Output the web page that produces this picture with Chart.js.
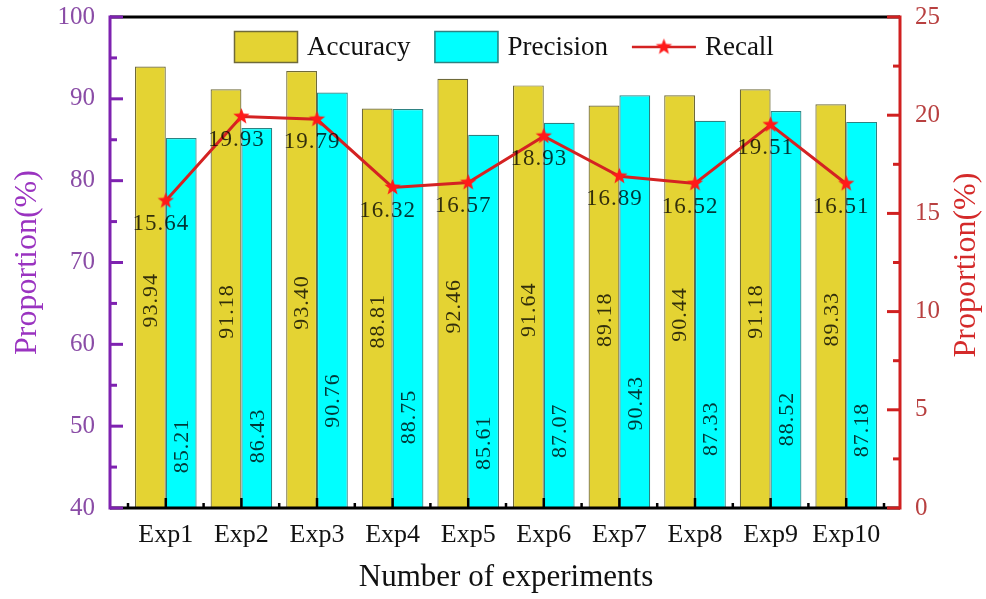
<!DOCTYPE html>
<html><head><meta charset="utf-8">
<script src="https://cdn.jsdelivr.net/npm/chart.js@4.4.1/dist/chart.umd.min.js"></script>
<style>html,body{margin:0;padding:0;background:#fff;}#wrap{width:986px;height:599px;position:relative;}</style>
</head><body><div id="wrap"><canvas id="c"></canvas></div>
<script>
const categories = ['Exp1','Exp2','Exp3','Exp4','Exp5','Exp6','Exp7','Exp8','Exp9','Exp10'];
const accuracy  = [93.94, 91.18, 93.40, 88.81, 92.46, 91.64, 89.18, 90.44, 91.18, 89.33];
const precision = [85.21, 86.43, 90.76, 88.75, 85.61, 87.07, 90.43, 87.33, 88.52, 87.18];
const recall    = [15.64, 19.93, 19.79, 16.32, 16.57, 18.93, 16.89, 16.52, 19.51, 16.51];
const leftTicks  = [40, 50, 60, 70, 80, 90, 100];
const rightTicks = [0, 5, 10, 15, 20, 25];

const FONT = 'Liberation Serif';
const C = {
  acc: '#E4D333', accB: '#6F6A3A',
  pre: '#00FFFF', preB: '#2E8282',
  rec: '#D42222', star: '#FF1A1A',
  left: '#7E22B0', leftTick: '#8A4CA6', leftTitle: '#9A33C0',
  right: '#D02020', rightTick: '#B84040', rightTitle: '#D42A2A'
};

function makeStar(R, r, color){
  const s = Math.ceil(R*2)+2;
  const c = document.createElement('canvas'); c.width = s; c.height = s;
  const g = c.getContext('2d'); g.fillStyle = color; g.beginPath();
  for (let i=0;i<10;i++){const a=-Math.PI/2+i*Math.PI/5; const rad=i%2?r:R; g.lineTo(s/2+rad*Math.cos(a), s/2+rad*Math.sin(a));}
  g.closePath(); g.fill(); return c;
}
const starImg = makeStar(8.5, 3.6, C.star);

const fmt = v => v.toFixed(2);

const decor = {
  id: 'decor',
  afterDatasetsDraw(chart){
    const ctx = chart.ctx, ca = chart.chartArea;
    const xs = chart.scales.x, ys = chart.scales.y, y1 = chart.scales.y1;
    const L = ca.left - 18, R = ca.right + 16, T = ca.top, B = ca.bottom;
    ctx.save();
    ctx.lineCap = 'butt';
    ctx.lineWidth = 3; ctx.strokeStyle = '#000';
    ctx.beginPath(); ctx.moveTo(L, T); ctx.lineTo(R, T); ctx.stroke();
    ctx.beginPath(); ctx.moveTo(L, B); ctx.lineTo(R, B); ctx.stroke();
    ctx.lineWidth = 2.5;
    categories.forEach((c,i)=>{const x = xs.getPixelForValue(i); ctx.beginPath(); ctx.moveTo(x,B); ctx.lineTo(x,B-10); ctx.stroke();});
    for (let i=0;i<=categories.length;i++){const x = ca.left + i*ca.width/categories.length; ctx.beginPath(); ctx.moveTo(x,B); ctx.lineTo(x,B-5); ctx.stroke();}
    ctx.strokeStyle = C.left; ctx.lineWidth = 3;
    ctx.beginPath(); ctx.moveTo(L, T-1.5); ctx.lineTo(L, B+1.5); ctx.stroke();
    const lStep = leftTicks[1]-leftTicks[0];
    for (let v=leftTicks[0]; v<=leftTicks[leftTicks.length-1]+1e-9; v+=lStep/2){
      const y = ys.getPixelForValue(v); const len = (Math.abs((v-leftTicks[0])%lStep)<1e-9)?13:7;
      ctx.beginPath(); ctx.moveTo(L, y); ctx.lineTo(L+len, y); ctx.stroke();
    }
    ctx.strokeStyle = C.right;
    ctx.beginPath(); ctx.moveTo(R, T-1.5); ctx.lineTo(R, B+1.5); ctx.stroke();
    const rStep = rightTicks[1]-rightTicks[0];
    for (let v=rightTicks[0]; v<=rightTicks[rightTicks.length-1]+1e-9; v+=rStep/2){
      const y = y1.getPixelForValue(v); const len = (Math.abs((v-rightTicks[0])%rStep)<1e-9)?13:7;
      ctx.beginPath(); ctx.moveTo(R, y); ctx.lineTo(R-len, y); ctx.stroke();
    }
    // bar value labels
    ctx.fillStyle = 'rgba(0,0,0,0.78)';
    ctx.font = '22px "' + FONT + '"';
    ctx.textAlign = 'center'; ctx.textBaseline = 'middle';
    try { ctx.letterSpacing = '1px'; } catch(e) {}
    const m0 = chart.getDatasetMeta(0), m1 = chart.getDatasetMeta(1), m2 = chart.getDatasetMeta(2);
    m0.data.forEach((el,i)=>{
      const base = Math.min(el.base, B);
      const cy = (el.y + base)/2 + 13;
      ctx.save(); ctx.translate(el.x, cy); ctx.rotate(-Math.PI/2); ctx.fillText(fmt(accuracy[i]),0,1); ctx.restore();
    });
    m1.data.forEach((el,i)=>{
      const cy = el.y + 308;
      ctx.save(); ctx.translate(el.x, cy); ctx.rotate(-Math.PI/2); ctx.fillText(fmt(precision[i]),0,1); ctx.restore();
    });
    ctx.font = '23px "' + FONT + '"';
    m2.data.forEach((pt,i)=>{ ctx.fillText(fmt(recall[i]), pt.x-5, pt.y+23); });
    ctx.restore();
  },
  afterDraw(chart){
    const ctx = chart.ctx;
    ctx.save();
    const ds = chart.data.datasets;
    let x = 234; const y = 31, bw = 64, bh = 32;
    ctx.font = '27px "' + FONT + '"'; ctx.textBaseline = 'middle'; ctx.textAlign = 'left';
    ds.forEach(d=>{
      if (d.type === 'line') {
        ctx.strokeStyle = d.borderColor; ctx.lineWidth = 2.5;
        ctx.beginPath(); ctx.moveTo(x, y+bh/2); ctx.lineTo(x+bw, y+bh/2); ctx.stroke();
        ctx.drawImage(starImg, x+bw/2-starImg.width/2, y+bh/2-starImg.height/2);
      } else {
        ctx.fillStyle = d.backgroundColor; ctx.fillRect(x, y, bw, bh);
        ctx.strokeStyle = d.borderColor; ctx.lineWidth = 1.5; ctx.strokeRect(x+0.5, y+0.5, bw-1, bh-1);
      }
      x += bw + 9;
      ctx.fillStyle = '#111'; ctx.fillText(d.label, x, y+bh/2+1);
      x += ctx.measureText(d.label).width + 24;
    });
    ctx.translate(967, 265); ctx.rotate(-Math.PI/2);
    ctx.textAlign = 'center'; ctx.fillStyle = C.rightTitle; ctx.font = '32px "' + FONT + '"';
    ctx.fillText('Proportion(%)', 0, 0);
    ctx.restore();
  }
};

new Chart(document.getElementById('c'), {
  data: {
    labels: categories,
    datasets: [
      {type:'bar', label:'Accuracy', data: accuracy, backgroundColor: C.acc, borderColor: C.accB, borderWidth: 1.2, yAxisID:'y', order: 2, categoryPercentage: 0.815, barPercentage: 1},
      {type:'bar', label:'Precision', data: precision, backgroundColor: C.pre, borderColor: C.preB, borderWidth: 1.2, yAxisID:'y', order: 2, categoryPercentage: 0.815, barPercentage: 1},
      {type:'line', label:'Recall', data: recall, borderColor: C.rec, backgroundColor: C.star, borderWidth: 3, pointStyle: starImg, pointRadius: 8, yAxisID:'y1', order: 0, tension: 0}
    ]
  },
  options: {
    responsive: true, maintainAspectRatio: false, animation: false,
    devicePixelRatio: 1,
    layout: {padding: {top: 17, left: 0, right: 0, bottom: 0}},
    plugins: {legend: {display: false}, tooltip: {enabled: false}},
    scales: {
      x: {
        type: 'category', offset: true,
        grid: {display: false, drawTicks: false}, border: {display: false},
        ticks: {font: {family: FONT, size: 26}, color: '#111', padding: 12, maxRotation: 0, autoSkip: false},
        title: {display: true, text: 'Number of experiments', font: {family: FONT, size: 31}, color: '#111', padding: {top: 0, bottom: 3}},
        afterFit(s){ s.height = 91; s.paddingLeft = 0; s.paddingRight = 0; }
      },
      y: {
        position: 'left', min: leftTicks[0], max: leftTicks[leftTicks.length-1],
        grid: {display: false, drawTicks: false}, border: {display: false},
        ticks: {stepSize: leftTicks[1]-leftTicks[0], font: {family: FONT, size: 25}, color: C.leftTick, padding: 33},
        afterBuildTicks(s){ s.ticks = leftTicks.map(v=>({value: v})); },
        title: {display: true, text: 'Proportion(%)', color: C.leftTitle, font: {family: FONT, size: 32}, padding: {top: 8, bottom: 0}},
        afterFit(s){ s.width = 128; s.paddingTop = 0; s.paddingBottom = 0; }
      },
      y1: {
        position: 'right', min: rightTicks[0], max: rightTicks[rightTicks.length-1],
        grid: {display: false, drawTicks: false}, border: {display: false},
        ticks: {stepSize: rightTicks[1]-rightTicks[0], font: {family: FONT, size: 25}, color: C.rightTick, padding: 31},
        afterBuildTicks(s){ s.ticks = rightTicks.map(v=>({value: v})); },
        afterFit(s){ s.width = 102; s.paddingTop = 0; s.paddingBottom = 0; }
      }
    }
  },
  plugins: [decor]
});
</script></body></html>
